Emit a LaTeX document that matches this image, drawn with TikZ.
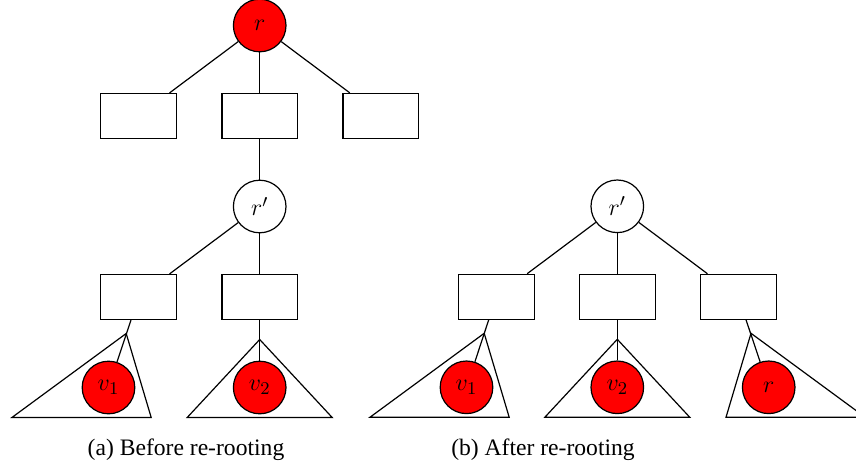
\documentclass[tikz,border=0pt]{standalone}
\usepackage{fontspec}
\setmainfont{Liberation Serif}
\usepackage{tikz}
\usetikzlibrary{positioning}

\begin{document}
\begin{tikzpicture}[on grid,node distance=45.25pt and 60.5pt,semithick,
				font=\fontsize{11.8}{14}\selectfont]
				\tikzstyle{vertex}=[circle,draw,minimum size=26.3pt,inner sep=0pt,
				font=\fontsize{12.5}{14}\selectfont]
				\tikzstyle{marked}=[vertex,fill=red]
				\tikzstyle{block}=[rectangle,draw,minimum width=37.8pt,minimum height=22.5pt]
				\useasboundingbox (-129.85pt,12.75pt) rectangle (298.15pt,-220.75pt);
				
				% (a) before re-rooting
				\node[marked] (r)                  {$r$};
				\node[block]  (t1) [below left=of r]  {};
				\node[block]  (t2) [below=of r]       {};
				\node[block]  (t3) [below right=of r] {};
				\node[vertex] (rp) [below=of t2]      {$r'$};
				\node[block]  (b1) [below left=of rp] {};
				\node[block]  (b2) [below=of rp]      {};
				\node[marked] (v1) [below left=45.25pt and 15.1pt of b1] {$v_1$};
				\node[marked] (v2) [below=of b2]      {$v_2$};
				
				\path[draw]
				(r) edge (t1)
				(r) edge (t2)
				(r) edge (t3)
				(t2) edge (rp)
				(rp) edge (b1)
				(rp) edge (b2)
				(b1) edge (v1)
				(b2) edge (v2);
				
				\draw ([shift={(8.85pt,27pt)}]v1.center) -- ([shift={(-48.3pt,-15pt)}]v1.center)
				-- ([shift={(21.35pt,-15pt)}]v1.center) -- cycle;
				\draw ([shift={(0pt,24pt)}]v2.center) -- ([shift={(-36.25pt,-15pt)}]v2.center)
				-- ([shift={(36.25pt,-15pt)}]v2.center) -- cycle;
				
				% (b) after re-rooting
				\node[vertex] (sp) at (178.8pt,-90.4pt) {$r'$};
				\node[block]  (c1) [below left=of sp]  {};
				\node[block]  (c2) [below=of sp]       {};
				\node[block]  (c3) [below right=of sp] {};
				\node[marked] (w1) [below left=45.25pt and 14.9pt of c1]  {$v_1$};
				\node[marked] (w2) [below=of c2]       {$v_2$};
				\node[marked] (w3) [below right=45.25pt and 15.2pt of c3] {$r$};
				
				\path[draw]
				(sp) edge (c1)
				(sp) edge (c2)
				(sp) edge (c3)
				(c1) edge (w1)
				(c2) edge (w2)
				(c3) edge (w3);
				
				\draw ([shift={(8.85pt,27pt)}]w1.center) -- ([shift={(-48.3pt,-15pt)}]w1.center)
				-- ([shift={(21.35pt,-15pt)}]w1.center) -- cycle;
				\draw ([shift={(0pt,24pt)}]w2.center) -- ([shift={(-36.25pt,-15pt)}]w2.center)
				-- ([shift={(36.25pt,-15pt)}]w2.center) -- cycle;
				\draw ([shift={(-8.85pt,27pt)}]w3.center) -- ([shift={(-21.35pt,-15pt)}]w3.center)
				-- ([shift={(48.3pt,-15pt)}]w3.center) -- cycle;
				
				\node[anchor=base] (capa) at (-36.85pt,-214.75pt) {(a) Before re-rooting};
				\node[anchor=base] (capb) at (141.65pt,-214.75pt) {(b) After re-rooting};
\end{tikzpicture}
\end{document}
